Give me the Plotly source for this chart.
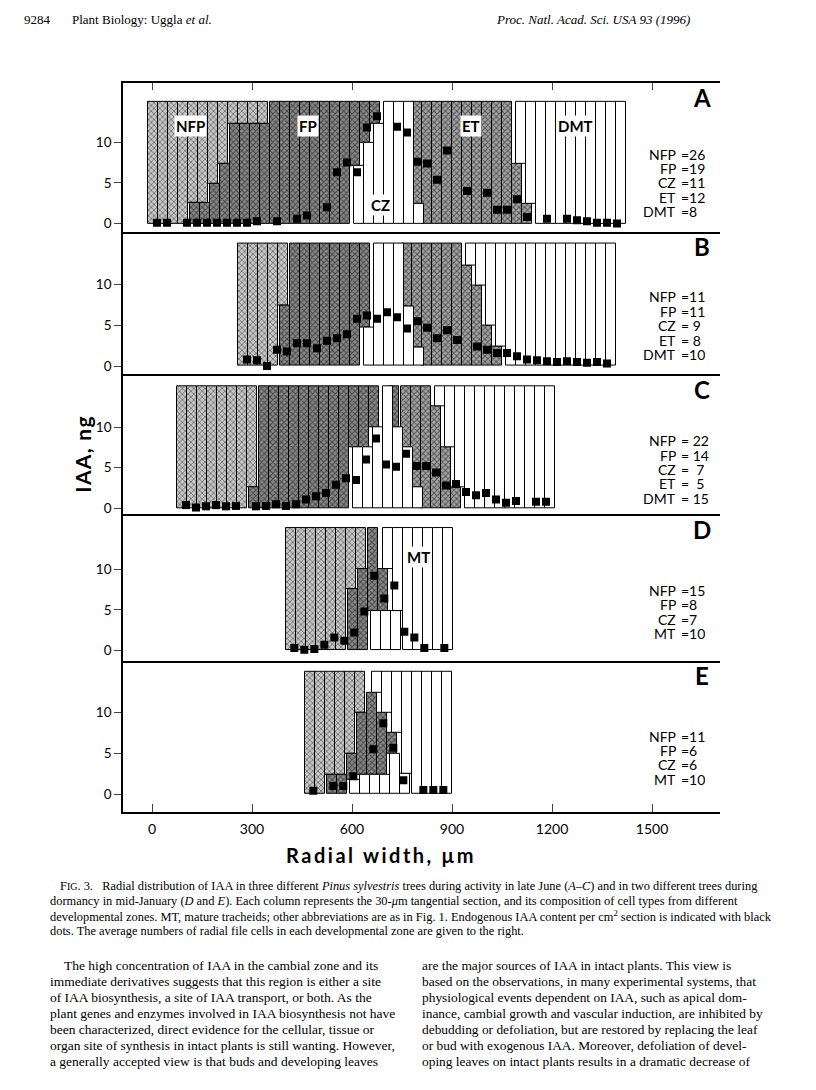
import plotly.graph_objects as go

W, H = 816, 1090

TOTAL = 15      # every section column is drawn to full height
COL_W = 30      # width of one tangential section, µm

# column composition, bottom -> top; "CZ7.1|FP" = CZ up to 7.1, FP above it
A_start = 0
A_cols = (["NFP"] * 4 + ["FP2.5|NFP"] * 2 + ["FP4.9|NFP", "FP7.4|NFP"] + ["FP12.3|NFP"] * 4
          + ["FP"] * 8 + ["CZ7.1|FP", "CZ9.9|FP", "CZ12.3|FP"] + ["CZ"] * 3 + ["CZ2.4|ET"]
          + ["ET"] * 9 + ["ET7.3|DMT", "ET2.4|DMT"] + ["DMT"] * 9)
A_iaa = [0.1, 0.1, None, 0.1, 0.1, 0.1, 0.1, 0.1, 0.1, 0.1, 0.3, None, 0.3, None, 0.6, 1.0,
         None, 2.0, 6.3, 7.5, 6.3, 11.8, 13.2, None, 11.9, 11.2, 7.6, 7.4, 5.4, 9.0, None, 4.0,
         None, 3.8, 1.7, 1.7, 3.0, 0.8, None, 0.6, None, 0.6, 0.4, 0.3, 0.1, 0.1, 0.0]
A_counts = [("NFP", "26"), ("FP", "19"), ("CZ", "11"), ("ET", "12"), ("DMT", "8")]

B_start = 270
B_cols = (["NFP"] * 4 + ["FP7.4|NFP"] + ["FP"] * 7 + ["CZ4.7|FP"] + ["CZ"] * 3
          + ["CZ7.3|ET", "CZ2.3|ET"] + ["ET"] * 4
          + ["ET12.3|DMT", "ET9.9|DMT", "ET5.0|DMT", "ET2.4|DMT"] + ["DMT"] * 11)
B_iaa = [0.8, 0.7, 0.0, 2.0, 1.8, 2.8, 2.8, 2.2, 3.1, 3.4, 3.9, 5.8, 6.2, 5.8, 6.6, 6.0,
         4.6, 5.5, 4.7, 3.4, 4.4, 3.2, None, 2.4, 2.0, 1.6, 1.6, 1.2, 0.8, 0.7, 0.6, 0.5,
         0.6, 0.5, 0.4, 0.5, 0.3]
B_counts = [("NFP", "11"), ("FP", "11"), ("CZ", " 9"), ("ET", " 8"), ("DMT", "10")]

C_start = 87
C_cols = (["NFP"] * 7 + ["FP2.6|NFP"] + ["FP"] * 9
          + ["CZ7.5|FP", "CZ7.5|FP", "CZ10|FP", "CZ", "CZ10|FP", "CZ7.5|ET", "CZ2.6|ET"]
          + ["ET", "ET12.6|DMT", "ET7.5|DMT", "ET2.6|DMT"] + ["DMT"] * 9)
C_iaa = [0.4, 0.1, 0.25, 0.4, 0.25, 0.3, None, 0.25, 0.3, 0.5, 0.3, 0.5, 1.1, 1.5, 1.9,
         2.9, 3.7, 3.5, 6.0, 8.6, 5.4, 5.1, 6.7, 5.2, 5.2, 4.4, 2.8, 3.0, 2.0, 1.6, 1.9,
         1.1, 0.7, 0.9, None, 0.8, 0.8]
C_counts = [("NFP", " 22"), ("FP", " 14"), ("CZ", "  7"), ("ET", "  5"), ("DMT", " 15")]

D_start = 412
D_cols = (["NFP"] * 6 + ["FP7.5|NFP", "FP10|NFP", "CZ4.9|FP", "CZ4.9|FP10|MT", "CZ4.9|MT"]
          + ["MT"] * 5)
D_iaa = [0.3, 0.1, 0.2, 0.7, 1.6, 1.2, 2.2, 4.8, 9.2, 6.4, 8.0, 2.3, 1.6, 0.3, None, 0.3]
D_counts = [("NFP", "15"), ("FP", "8"), ("CZ", "7"), ("MT", "10")]

E_start = 469
E_cols = (["NFP"] * 2 + ["FP2.4|NFP"] * 2
          + ["CZ1.8|FP5.0|NFP", "CZ2.4|FP10|NFP", "CZ2.4|FP12.5|MT", "CZ2.4|FP10|MT",
             "CZ4.9|FP7.5|MT", "CZ2.5|MT"] + ["MT"] * 4)
E_iaa = [0.4, None, 1.0, 1.0, 2.2, None, 5.5, 8.7, 5.7, 1.7, None, 0.5, 0.5, 0.5]
E_counts = [("NFP", "11"), ("FP", "6"), ("CZ", "6"), ("MT", "10")]

x_ticks = [0, 300, 600, 900, 1200, 1500]
y_ticks = [0, 5, 10]

# panel frames in page pixels (top, bottom, pixel of y=0)
panels = [
    ("A", A_start, A_cols, A_iaa, A_counts, 83, 232, 224.0),
    ("B", B_start, B_cols, B_iaa, B_counts, 232, 375, 366.7),
    ("C", C_start, C_cols, C_iaa, C_counts, 375, 515, 509.3),
    ("D", D_start, D_cols, D_iaa, D_counts, 515, 662, 651.7),
    ("E", E_start, E_cols, E_iaa, E_counts, 662, 813, 795.5),
]
PX_PER_NG = 8.15
X_LEFT, X_RIGHT = 123, 720           # frame in pixels
X_RANGE = [(X_LEFT - 152) * 3, (X_RIGHT - 152) * 3]

ZONE_STYLE = {
    "NFP": dict(color="white", pattern=dict(shape="x", fgcolor="#222", bgcolor="#c6c6c6", size=4, solidity=0.4)),
    "FP": dict(color="white", pattern=dict(shape="x", fgcolor="#000", bgcolor="#8a8a8a", size=4, solidity=0.45)),
    "ET": dict(color="white", pattern=dict(shape="x", fgcolor="#000", bgcolor="#a6a6a6", size=4, solidity=0.45)),
    "CZ": dict(color="white"),
    "DMT": dict(color="white"),
    "MT": dict(color="white"),
}


def split_col(spec):
    parts = {}
    lo = 0.0
    for part in spec.split("|"):
        name = part.rstrip("0123456789.")
        top = float(part[len(name):]) if len(part) > len(name) else TOTAL
        parts[name] = (lo, top - lo)
        lo = top
    return parts


def pp(x, y):
    return x / W, 1 - y / H


fig = go.Figure()
annotations = []

for i, (letter, start, cols, iaa, counts, top, bot, zero) in enumerate(panels):
    n = i + 1
    xa = "x" if n == 1 else f"x{n}"
    ya = "y" if n == 1 else f"y{n}"
    centers = [start + COL_W * k + COL_W / 2 for k in range(len(cols))]
    comp = [split_col(c) for c in cols]
    for zone, style in ZONE_STYLE.items():
        hs = [c[zone][1] if zone in c else None for c in comp]
        if all(h is None for h in hs):
            continue
        bs = [c[zone][0] if zone in c else None for c in comp]
        fig.add_trace(go.Bar(x=centers, y=hs, base=bs, width=COL_W, xaxis=xa, yaxis=ya,
                             marker=dict(line=dict(color="black", width=1), **style),
                             showlegend=False))
    fig.add_trace(go.Scatter(x=centers, y=iaa, mode="markers", xaxis=xa, yaxis=ya,
                             marker=dict(symbol="square", size=8, color="black"),
                             showlegend=False))

    yr = [-(bot - zero) / PX_PER_NG, (zero - top) / PX_PER_NG]
    dom = [1 - bot / H, 1 - top / H]
    fig.layout[f"yaxis{'' if n == 1 else n}"] = dict(
        domain=dom, range=yr, anchor=xa, tickvals=y_ticks, ticks="outside", ticklen=7,
        tickwidth=1.3, showline=True, linewidth=1.6, linecolor="black", showgrid=False,
        zeroline=False, tickfont=dict(family="Lato", size=13.5, color="black"))
    xdict = dict(domain=[X_LEFT / W, X_RIGHT / W], range=X_RANGE, anchor=ya, tickvals=x_ticks,
                 showline=True, linewidth=1.6, linecolor="black", showgrid=False, zeroline=False,
                 ticks="", showticklabels=False)
    if n > 1:
        xdict["matches"] = "x"
    if letter == "A":
        xdict.update(side="top", mirror=True, ticks="inside", ticklen=7, tickwidth=1.3)
    if letter == "E":
        xdict.update(ticks="inside", ticklen=8, tickwidth=1.3, showticklabels=True,
                     ticklabelstandoff=4, tickfont=dict(family="Lato", size=14, color="black"))
    fig.layout[f"xaxis{'' if n == 1 else n}"] = xdict

    # panel letter
    lx, ly = pp(702, top + 15)
    annotations.append(dict(x=lx, y=ly, xref="paper", yref="paper", text=f"<b>{letter}</b>",
                            showarrow=False, xanchor="center", yanchor="middle",
                            font=dict(family="Lato", size=24, color="black")))
    # cell counts
    first = {"A": 154, "B": 297, "C": 441, "D": 591, "E": 737}[letter]
    for k, (zn, val) in enumerate(counts):
        cy = first + k * 14.4
        x1, y1 = pp(677, cy)
        annotations.append(dict(x=x1, y=y1, xref="paper", yref="paper", text=zn, showarrow=False,
                                xanchor="right", yanchor="middle", height=12, borderpad=0,
                                font=dict(family="Lato", size=14, color="black")))
        x2, _ = pp(680, cy)
        annotations.append(dict(x=x2, y=y1, xref="paper", yref="paper", text="=" + val,
                                showarrow=False, xanchor="left", yanchor="middle", height=12,
                                borderpad=0, font=dict(family="Lato", size=14, color="black")))

# zone labels inside panels A and D
zone_labels = [("NFP", 114, 12.0, "y"), ("FP", 468, 12.0, "y"), ("ET", 957, 12.0, "y"),
               ("DMT", 1269, 12.0, "y"), ("CZ", 684, 2.3, "y"), ("MT", 798, 11.5, "y4")]
for txt, xv, yv, yref in zone_labels:
    annotations.append(dict(x=xv, y=yv, xref="x" if yref == "y" else "x4", yref=yref,
                            text=f"<b>{txt}</b>", showarrow=False, bgcolor="white",
                            borderpad=1, font=dict(family="Lato", size=15, color="black")))

# axis titles
ax, ay = pp(68, 456)
annotations.append(dict(x=ax, y=ay, xref="paper", yref="paper", textangle=-90,
                        text="<b>" + "\u200a".join("IAA, ng") + "</b>", showarrow=False,
                        font=dict(family="Lato", size=21, color="black")))
ax, ay = pp(380, 857)
annotations.append(dict(x=ax, y=ay, xref="paper", yref="paper", xanchor="center", yanchor="middle",
                        text="<b>" + "\u2009".join("Radial width, µm") + "</b>", showarrow=False,
                        font=dict(family="Lato", size=20, color="black")))

# page text
serif = "Liberation Serif"
header = [("9284", 22, "left"), ("Plant Biology: Uggla <i>et al.</i>", 70, "left"),
          ("<i>Proc. Natl. Acad. Sci. USA 93 (1996)</i>", 692, "right")]
for txt, hx, anc in header:
    x0, y0 = pp(hx, 20)
    annotations.append(dict(x=x0, y=y0, xref="paper", yref="paper", text=txt, showarrow=False,
                            xanchor=anc, yanchor="middle", font=dict(family=serif, size=13, color="black")))

caption = [
    (58, "F<span style='font-size:10px'>IG</span>. 3.&nbsp;&nbsp; Radial distribution of IAA in three different <i>Pinus sylvestris</i> trees during activity in late June (<i>A–C</i>) and in two different trees during"),
    (48, "dormancy in mid-January (<i>D</i> and <i>E</i>). Each column represents the 30-<i>μ</i>m tangential section, and its composition of cell types from different"),
    (48, "developmental zones. MT, mature tracheids; other abbreviations are as in Fig. 1. Endogenous IAA content per cm<sup>2</sup> section is indicated with black"),
    (48, "dots. The average numbers of radial file cells in each developmental zone are given to the right."),
]
for k, (cx, txt) in enumerate(caption):
    x0, y0 = pp(cx, 888 + k * 15)
    annotations.append(dict(x=x0, y=y0, xref="paper", yref="paper", text=txt, showarrow=False,
                            xanchor="left", yanchor="middle", font=dict(family=serif, size=12.4, color="black")))

body_left = [
    "The high concentration of IAA in the cambial zone and its",
    "immediate derivatives suggests that this region is either a site",
    "of IAA biosynthesis, a site of IAA transport, or both. As the",
    "plant genes and enzymes involved in IAA biosynthesis not have",
    "been characterized, direct evidence for the cellular, tissue or",
    "organ site of synthesis in intact plants is still wanting. However,",
    "a generally accepted view is that buds and developing leaves",
]
body_right = [
    "are the major sources of IAA in intact plants. This view is",
    "based on the observations, in many experimental systems, that",
    "physiological events dependent on IAA, such as apical dom-",
    "inance, cambial growth and vascular induction, are inhibited by",
    "debudding or defoliation, but are restored by replacing the leaf",
    "or bud with exogenous IAA. Moreover, defoliation of devel-",
    "oping leaves on intact plants results in a dramatic decrease of",
]
for k, txt in enumerate(body_left):
    x0, y0 = pp(62 if k == 0 else 48, 967 + k * 16)
    annotations.append(dict(x=x0, y=y0, xref="paper", yref="paper", text=txt, showarrow=False,
                            xanchor="left", yanchor="middle", font=dict(family=serif, size=13.5, color="black")))
for k, txt in enumerate(body_right):
    x0, y0 = pp(420, 967 + k * 16)
    annotations.append(dict(x=x0, y=y0, xref="paper", yref="paper", text=txt, showarrow=False,
                            xanchor="left", yanchor="middle", font=dict(family=serif, size=13.4, color="black")))

fig.update_layout(width=W, height=H, margin=dict(l=0, r=0, t=0, b=0), plot_bgcolor="white",
                  paper_bgcolor="white", bargap=0, annotations=annotations, showlegend=False)

fig.write_html("out.html", config={"displayModeBar": False},
               post_script="document.body.style.margin='0';")
